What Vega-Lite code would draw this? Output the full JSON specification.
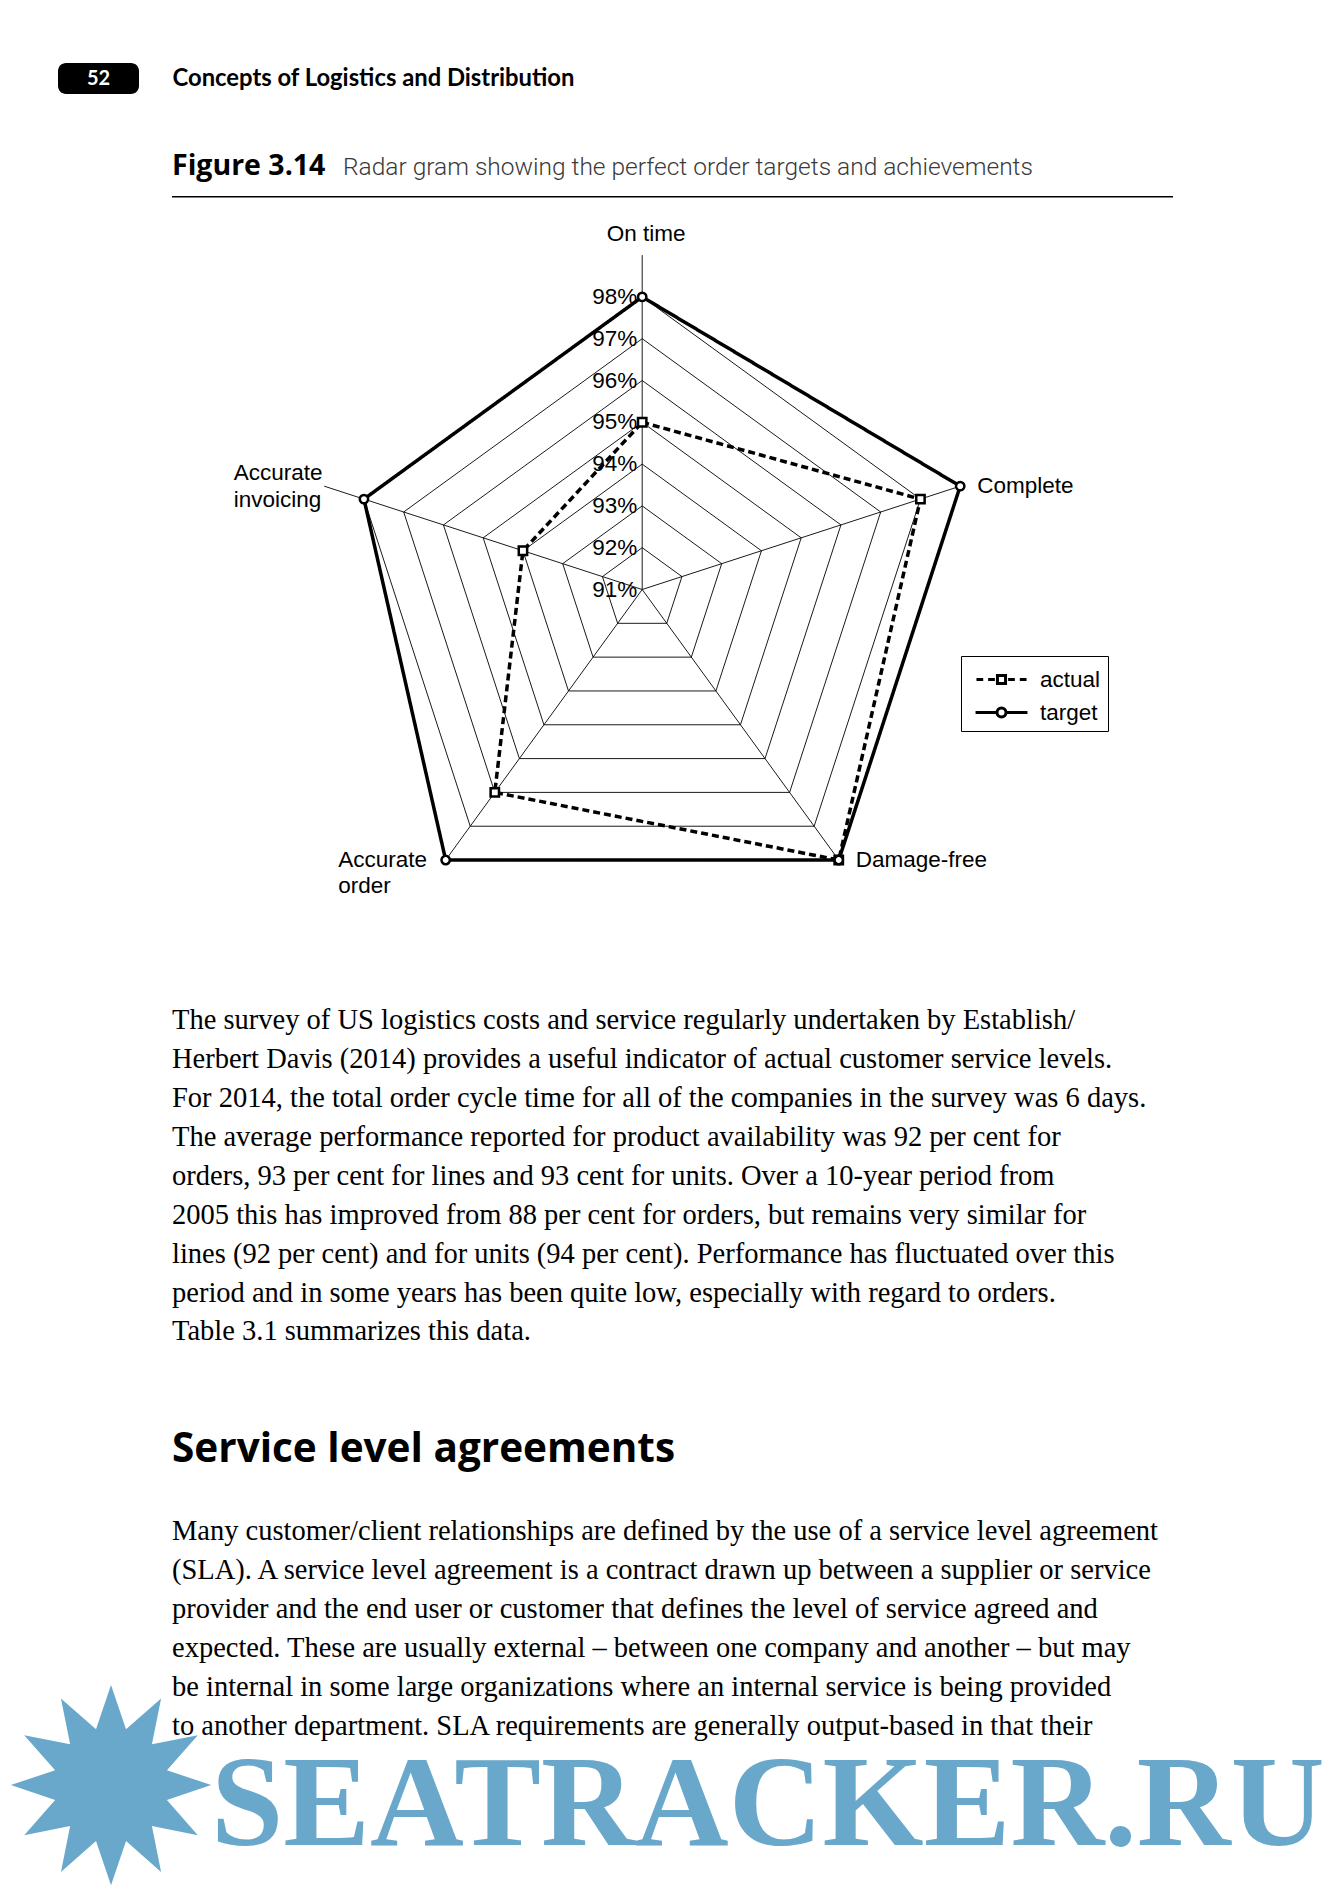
{
  "$schema": "https://vega.github.io/schema/vega-lite/v6.json",
  "background": "white",
  "padding": {"left": 0, "top": 63, "right": 0, "bottom": 0},
  "config": {"view": {"stroke": null}},
  "spacing": 57,
  "vconcat": [
    {
      "spacing": 0,
      "hconcat": [
        {"width": 58, "height": 31, "data": {"values": []}, "mark": "point"},
        {
          "width": 81, "height": 31,
          "data": {"values": [{"page": "52"}]},
          "layer": [
            {"mark": {"type": "rect", "color": "black", "cornerRadius": 8}, "encoding": {}},
            {"mark": {"type": "text", "color": "white", "font": "Lato", "fontSize": 20, "fontWeight": "bold", "baseline": "middle", "align": "center"}, "encoding": {"text": {"field": "page", "type": "nominal"}}}
          ]
        },
        {"width": 33, "height": 31, "data": {"values": []}, "mark": "point"},
        {
          "width": 1, "height": 31,
          "data": {"values": [{"head": "Concepts of Logistics and Distribution"}]},
          "mark": {"type": "text", "align": "left", "baseline": "middle", "font": "Lato", "fontSize": 23.8, "fontWeight": "bold", "color": "black"},
          "encoding": {"text": {"field": "head", "type": "nominal"}}
        }
      ]
    },
    {
      "spacing": 0,
      "bounds": "flush",
      "hconcat": [
        {
          "width": 172, "height": 1492.6, "data": {"values": []}, "mark": "point",
          "title": {"text": "✹", "orient": "bottom", "anchor": "start", "align": "left", "baseline": "top", "offset": 0, "font": "DejaVu Sans", "fontSize": 265, "color": "#69a8cb"}
        },
        {
          "spacing": 0,
          "vconcat": [
            {
              "spacing": 0,
              "hconcat": [
                {"width": 171, "height": 15.6, "data": {"values": []}, "mark": "point",
                 "title": {"text": "Figure 3.14", "anchor": "start", "baseline": "top", "offset": 0, "font": "Open Sans", "fontSize": 28.5, "fontWeight": "bold", "color": "black"}},
                {"width": 830, "height": 15.6, "data": {"values": []}, "mark": "point",
                 "title": {"text": "Radar gram showing the perfect order targets and achievements", "anchor": "start", "baseline": "top", "offset": 0, "font": "Roboto", "fontSize": 24.5, "fontWeight": 300, "color": "#3a3a3a"}}
              ]
            },
            {"width": 1001, "height": 1.5, "data": {"values": [{"a": 1}]}, "mark": {"type": "rect", "color": "black"}, "encoding": {}},
            {
              "width": 1001, "height": 807.5,
              "data": {"values": [
                {"axis": "On time", "i": 0, "actual": 95, "target": 98},
                {"axis": "Complete", "i": 1, "actual": 98, "target": 99},
                {"axis": "Damage-free", "i": 2, "actual": 99, "target": 99},
                {"axis": "Accurate order", "i": 3, "actual": 97, "target": 99},
                {"axis": "Accurate invoicing", "i": 4, "actual": 94, "target": 98}
              ]},
              "transform": [
                {"calculate": "datum.i * 2 * PI / 5", "as": "ang"},
                {"calculate": "sin(datum.ang)", "as": "ux"},
                {"calculate": "cos(datum.ang)", "as": "uy"}
              ],
              "resolve": {"scale": {"shape": "independent"}, "legend": {"shape": "independent"}},
              "layer": [
                {
                  "data": {"values": [
                    {"i": 0, "levels": [92, 93, 94, 95, 96, 97, 98]},
                    {"i": 1, "levels": [92, 93, 94, 95, 96, 97, 98]},
                    {"i": 2, "levels": [92, 93, 94, 95, 96, 97, 98]},
                    {"i": 3, "levels": [92, 93, 94, 95, 96, 97, 98]},
                    {"i": 4, "levels": [92, 93, 94, 95, 96, 97, 98]}
                  ]},
                  "transform": [
                    {"flatten": ["levels"], "as": ["level"]},
                    {"calculate": "(datum.level - 91) * sin(datum.i * 2 * PI / 5)", "as": "gx"},
                    {"calculate": "(datum.level - 91) * cos(datum.i * 2 * PI / 5)", "as": "gy"}
                  ],
                  "mark": {"type": "line", "interpolate": "linear-closed", "color": "black", "strokeWidth": 0.9},
                  "encoding": {
                    "x": {"field": "gx", "type": "quantitative", "scale": {"domain": [-11.25, 12.7], "nice": false, "zero": false}, "axis": null},
                    "y": {"field": "gy", "type": "quantitative", "scale": {"domain": [-9.952, 9.366], "nice": false, "zero": false}, "axis": null},
                    "detail": {"field": "level", "type": "nominal"},
                    "order": {"field": "i", "type": "quantitative"}
                  }
                },
                {
                  "transform": [
                    {"calculate": "0", "as": "ox"},
                    {"calculate": "8 * datum.ux", "as": "sx"},
                    {"calculate": "8 * datum.uy", "as": "sy"}
                  ],
                  "mark": {"type": "rule", "color": "black", "strokeWidth": 0.9},
                  "encoding": {
                    "x": {"field": "ox", "type": "quantitative", "scale": {"domain": [-11.25, 12.7], "nice": false, "zero": false}, "axis": null},
                    "y": {"field": "ox", "type": "quantitative", "scale": {"domain": [-9.952, 9.366], "nice": false, "zero": false}, "axis": null},
                    "x2": {"field": "sx"},
                    "y2": {"field": "sy"}
                  }
                },
                {
                  "data": {"values": [{"level": 91}, {"level": 92}, {"level": 93}, {"level": 94}, {"level": 95}, {"level": 96}, {"level": 97}, {"level": 98}]},
                  "transform": [
                    {"calculate": "0", "as": "ox"},
                    {"calculate": "datum.level - 91", "as": "ty"},
                    {"calculate": "datum.level + '%'", "as": "tl"}
                  ],
                  "mark": {"type": "text", "align": "right", "baseline": "middle", "dx": -5, "font": "Liberation Sans", "fontSize": 22.5, "color": "black"},
                  "encoding": {
                    "x": {"field": "ox", "type": "quantitative", "scale": {"domain": [-11.25, 12.7], "nice": false, "zero": false}, "axis": null},
                    "y": {"field": "ty", "type": "quantitative", "scale": {"domain": [-9.952, 9.366], "nice": false, "zero": false}, "axis": null},
                    "text": {"field": "tl", "type": "nominal"}
                  }
                },
                {
                  "transform": [
                    {"fold": ["actual", "target"], "as": ["series", "value"]},
                    {"calculate": "(datum.value - 91) * datum.ux", "as": "px"},
                    {"calculate": "(datum.value - 91) * datum.uy", "as": "py"}
                  ],
                  "mark": {"type": "line", "interpolate": "linear-closed", "color": "black", "strokeWidth": 3.5},
                  "encoding": {
                    "x": {"field": "px", "type": "quantitative", "scale": {"domain": [-11.25, 12.7], "nice": false, "zero": false}, "axis": null},
                    "y": {"field": "py", "type": "quantitative", "scale": {"domain": [-9.952, 9.366], "nice": false, "zero": false}, "axis": null},
                    "order": {"field": "i", "type": "quantitative"},
                    "strokeDash": {
                      "field": "series", "type": "nominal",
                      "scale": {"domain": ["actual", "target"], "range": [[7, 4], [1, 0]]},
                      "legend": null
                    }
                  }
                },
                {
                  "transform": [
                    {"fold": ["actual", "target"], "as": ["series", "value"]},
                    {"calculate": "datum.series", "as": "mk"},
                    {"calculate": "(datum.value - 91) * datum.ux", "as": "px"},
                    {"calculate": "(datum.value - 91) * datum.uy", "as": "py"}
                  ],
                  "mark": {"type": "point", "filled": true, "fill": "white", "stroke": "black", "strokeWidth": 2.5, "size": 70, "opacity": 1},
                  "encoding": {
                    "x": {"field": "px", "type": "quantitative", "scale": {"domain": [-11.25, 12.7], "nice": false, "zero": false}, "axis": null},
                    "y": {"field": "py", "type": "quantitative", "scale": {"domain": [-9.952, 9.366], "nice": false, "zero": false}, "axis": null},
                    "shape": {"field": "mk", "type": "nominal", "scale": {"domain": ["actual", "target"], "range": ["square", "circle"]}, "legend": null}
                  }
                },
                {
                  "data": {"values": []},
                  "mark": {"type": "point", "filled": false, "stroke": "black", "strokeWidth": 3},
                  "encoding": {
                    "shape": {
                      "field": "series", "type": "nominal",
                      "scale": {"domain": ["actual", "target"], "range": ["M-1.67,0H-1.22M-0.89,0H-0.44M0.44,0H0.89M1.22,0H1.67M-0.27,-0.27H0.27V0.27H-0.27Z", "M-1.73,0H-0.3M0.3,0H1.73M0.3,0A0.3,0.3 0 1,1 -0.3,0A0.3,0.3 0 1,1 0.3,0"]},
                      "legend": {
                        "title": null, "orient": "none", "legendX": 789, "legendY": 458,
                        "strokeColor": "black", "fillColor": "white", "padding": 7,
                        "symbolOffset": 17, "labelOffset": 22, "rowPadding": 5,
                        "symbolSize": 900, "symbolStrokeWidth": 3, "symbolStrokeColor": "black", "symbolFillColor": "white", "symbolOpacity": 1,
                        "labelFont": "Liberation Sans", "labelFontSize": 22.5, "labelColor": "black"
                      }
                    }
                  }
                },
                {
                  "transform": [
                    {"filter": "datum.i == 0"},
                    {"calculate": "8 * datum.ux", "as": "lx"},
                    {"calculate": "8 * datum.uy", "as": "ly"}
                  ],
                  "mark": {"type": "text", "align": "center", "baseline": "bottom", "dx": 4, "dy": -9, "font": "Liberation Sans", "fontSize": 22.5, "color": "black"},
                  "encoding": {
                    "x": {"field": "lx", "type": "quantitative", "scale": {"domain": [-11.25, 12.7], "nice": false, "zero": false}, "axis": null},
                    "y": {"field": "ly", "type": "quantitative", "scale": {"domain": [-9.952, 9.366], "nice": false, "zero": false}, "axis": null},
                    "text": {"field": "axis", "type": "nominal"}
                  }
                },
                {
                  "transform": [
                    {"filter": "datum.i == 1 || datum.i == 2"},
                    {"calculate": "8 * datum.ux", "as": "lx"},
                    {"calculate": "8 * datum.uy", "as": "ly"}
                  ],
                  "mark": {"type": "text", "align": "left", "baseline": "middle", "dx": 17, "font": "Liberation Sans", "fontSize": 22.5, "color": "black"},
                  "encoding": {
                    "x": {"field": "lx", "type": "quantitative", "scale": {"domain": [-11.25, 12.7], "nice": false, "zero": false}, "axis": null},
                    "y": {"field": "ly", "type": "quantitative", "scale": {"domain": [-9.952, 9.366], "nice": false, "zero": false}, "axis": null},
                    "text": {"field": "axis", "type": "nominal"}
                  }
                },
                {
                  "transform": [
                    {"filter": "datum.i == 3"},
                    {"calculate": "8 * datum.ux", "as": "lx"},
                    {"calculate": "8 * datum.uy", "as": "ly"}
                  ],
                  "mark": {"type": "text", "align": "left", "baseline": "alphabetic", "dx": -107.5, "dy": 7, "lineBreak": " ", "lineHeight": 26, "font": "Liberation Sans", "fontSize": 22.5, "color": "black"},
                  "encoding": {
                    "x": {"field": "lx", "type": "quantitative", "scale": {"domain": [-11.25, 12.7], "nice": false, "zero": false}, "axis": null},
                    "y": {"field": "ly", "type": "quantitative", "scale": {"domain": [-9.952, 9.366], "nice": false, "zero": false}, "axis": null},
                    "text": {"field": "axis", "type": "nominal"}
                  }
                },
                {
                  "transform": [
                    {"filter": "datum.i == 4"},
                    {"calculate": "8 * datum.ux", "as": "lx"},
                    {"calculate": "8 * datum.uy", "as": "ly"}
                  ],
                  "mark": {"type": "text", "align": "left", "baseline": "middle", "dx": -90.4, "dy": -13, "lineBreak": " ", "lineHeight": 27, "font": "Liberation Sans", "fontSize": 22.5, "color": "black"},
                  "encoding": {
                    "x": {"field": "lx", "type": "quantitative", "scale": {"domain": [-11.25, 12.7], "nice": false, "zero": false}, "axis": null},
                    "y": {"field": "ly", "type": "quantitative", "scale": {"domain": [-9.952, 9.366], "nice": false, "zero": false}, "axis": null},
                    "text": {"field": "axis", "type": "nominal"}
                  }
                }
              ]
            },
            {
              "width": 1001, "height": 83, "data": {"values": []}, "mark": "point",
              "title": {
                "text": [
                  "The survey of US logistics costs and service regularly undertaken by Establish/",
                  "Herbert Davis (2014) provides a useful indicator of actual customer service levels.",
                  "For 2014, the total order cycle time for all of the companies in the survey was 6 days.",
                  "The average performance reported for product availability was 92 per cent for",
                  "orders, 93 per cent for lines and 93    cent for units. Over a 10-year period from",
                  "2005 this has improved from 88 per cent for orders, but remains very similar for",
                  "lines (92 per cent) and for units (94 per cent). Performance has fluctuated over this",
                  "period and in some years has been quite low, especially with regard to orders.",
                  "Table 3.1 summarizes this data."
                ],
                "anchor": "start", "baseline": "top", "offset": 0, "font": "Liberation Serif", "fontSize": 28.5, "fontWeight": "normal", "lineHeight": 38.9, "color": "black"
              }
            },
            {
              "width": 1001, "height": 46.8, "data": {"values": []}, "mark": "point",
              "title": {"text": "Service level agreements", "anchor": "start", "baseline": "top", "offset": 0, "font": "Open Sans", "fontSize": 40.5, "fontWeight": "bold", "color": "black"}
            },
            {
              "width": 1001, "height": 1, "data": {"values": []}, "mark": "point",
              "title": {
                "text": [
                  "Many customer/client relationships are defined by the use of a service level agreement",
                  "(SLA). A service level agreement is a contract drawn up between a supplier or service",
                  "provider and the end user or customer that defines the level of service agreed and",
                  "expected. These are usually external – between one company and another – but may",
                  "be internal in some large organizations where an internal service is being provided",
                  "to another department. SLA requirements are generally output-based in that their"
                ],
                "anchor": "start", "baseline": "top", "offset": 0, "font": "Liberation Serif", "fontSize": 28.5, "fontWeight": "normal", "lineHeight": 38.9, "color": "black"
              }
            },
            {
              "width": 1001, "height": 1, "data": {"values": []}, "mark": "point",
              "title": {"text": "SEATRACKER.RU", "anchor": "start", "baseline": "top", "offset": 0, "dx": 39, "dy": -17, "font": "Liberation Serif", "fontSize": 130, "fontWeight": "bold", "color": "#69a8cb"}
            }
          ]
        }
      ]
    }
  ]
}
